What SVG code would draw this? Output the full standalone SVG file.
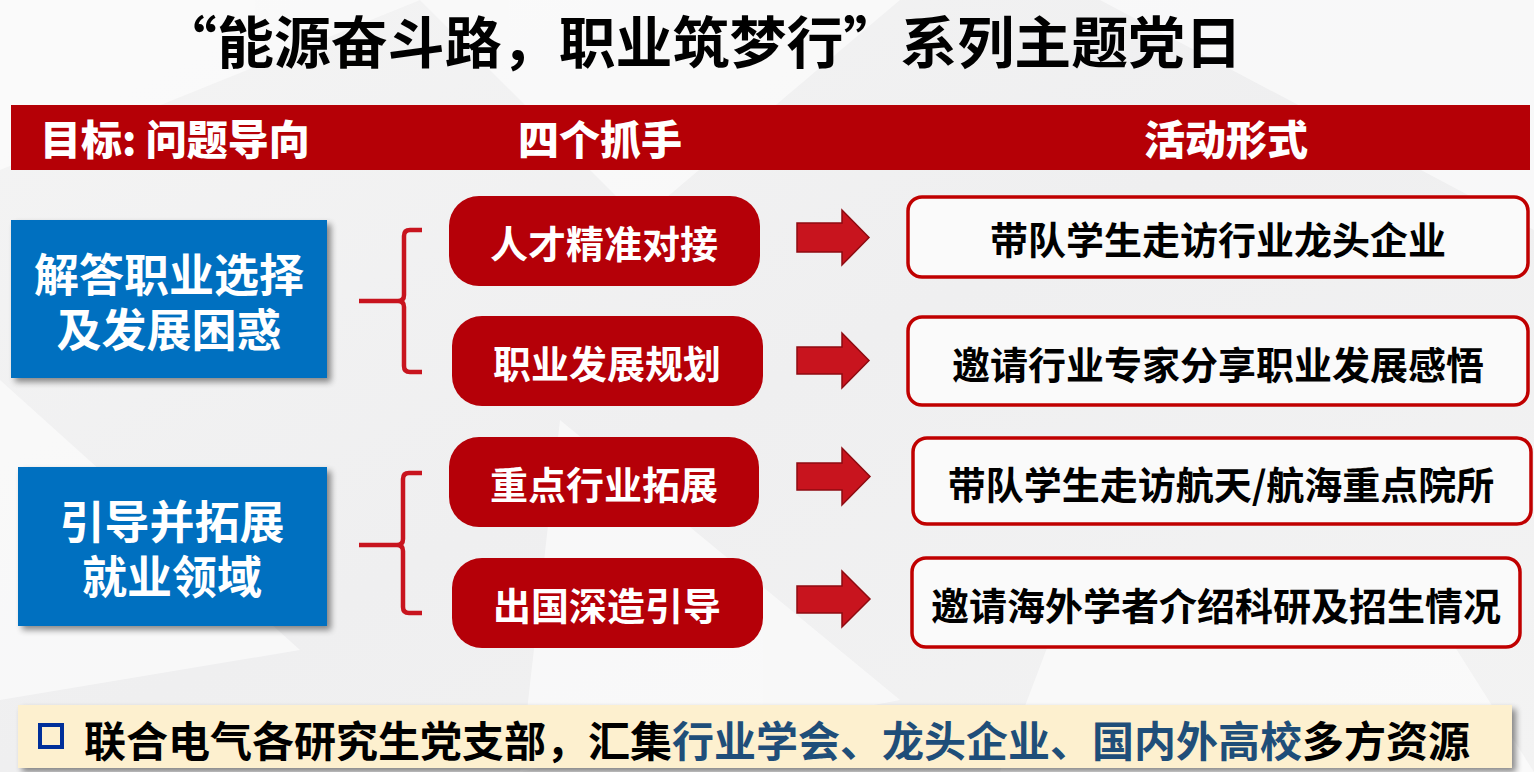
<svg xmlns="http://www.w3.org/2000/svg" width="1534" height="772" viewBox="0 0 1534 772">
<defs>
<style>
.cjk{font-family:"Noto Sans CJK SC","Noto Sans",sans-serif;font-weight:bold;}
.hdr{font-size:41px;fill:#ffffff;font-weight:900;}
.goal{font-size:45px;fill:#ffffff;text-anchor:middle;}
.pill{fill:#b50008;}
.pilltxt{font-size:38px;fill:#ffffff;text-anchor:middle;}
.act{fill:#fafafa;stroke:#c00000;stroke-width:3.5;}
.acttxt{font-size:38px;fill:#000000;text-anchor:middle;}
.brace{fill:none;stroke:#c8141e;stroke-width:4.5;stroke-linejoin:round;}
.arrow{fill:#c8141e;stroke:#8e0a10;stroke-width:1.5;}
.blue{fill:#0070c0;}
</style>
<filter id="sh" x="-10%" y="-10%" width="130%" height="130%">
<feGaussianBlur in="SourceAlpha" stdDeviation="3"/>
<feOffset dx="4" dy="4" result="b"/>
<feComponentTransfer><feFuncA type="linear" slope="0.45"/></feComponentTransfer>
<feMerge><feMergeNode/><feMergeNode in="SourceGraphic"/></feMerge>
</filter>
<linearGradient id="bg" x1="0" y1="0" x2="1" y2="1">
<stop offset="0" stop-color="#f4f4f4"/>
<stop offset="0.5" stop-color="#efeff0"/>
<stop offset="1" stop-color="#f3f3f3"/>
</linearGradient>
</defs>
<rect x="0" y="0" width="1534" height="772" fill="url(#bg)"/>
<g id="background-facets" fill="#ffffff" opacity="0.55">
<polygon points="0,0 420,0 0,170"/>
<polygon points="420,0 900,0 640,220"/>
<polygon points="1100,0 1534,0 1534,230"/>
<polygon points="0,380 300,650 0,700"/>
<polygon points="560,420 900,700 520,772"/>
<polygon points="1050,640 1400,560 1534,772 1000,772"/>
</g>
<g id="title">
<text class="cjk" x="160" y="63" font-size="56" font-weight="900" fill="#000000" textLength="1082" lengthAdjust="spacingAndGlyphs">“能源奋斗路，职业筑梦行”系列主题党日</text>
</g>
<g id="header">
<rect x="11" y="105" width="1519" height="65" fill="#b50006"/>
<text class="cjk hdr" x="40" y="137" dominant-baseline="central">目标: 问题导向</text>
<text class="cjk hdr" x="600" y="137" dominant-baseline="central" text-anchor="middle">四个抓手</text>
<text class="cjk hdr" x="1226" y="137" dominant-baseline="central" text-anchor="middle">活动形式</text>
</g>
<g id="goal1">
<rect class="blue" x="11" y="220" width="316" height="158" filter="url(#sh)"/>
<text class="cjk goal" dominant-baseline="central"><tspan x="169" y="272">解答职业选择</tspan><tspan x="169" y="327">及发展困惑</tspan></text>
</g>
<g id="goal2">
<rect class="blue" x="18" y="467" width="309" height="159" filter="url(#sh)"/>
<text class="cjk goal" dominant-baseline="central"><tspan x="172" y="519">引导并拓展</tspan><tspan x="172" y="574">就业领域</tspan></text>
</g>
<g id="hand1">
<rect class="pill" x="449" y="196" width="311" height="90" rx="30"/>
<text class="cjk pilltxt" x="604" y="241" dominant-baseline="central">人才精准对接</text>
</g>
<g id="hand2">
<rect class="pill" x="452" y="316" width="311" height="90" rx="30"/>
<text class="cjk pilltxt" x="607" y="361" dominant-baseline="central">职业发展规划</text>
</g>
<g id="hand3">
<rect class="pill" x="449" y="437" width="310" height="90" rx="30"/>
<text class="cjk pilltxt" x="604" y="482" dominant-baseline="central">重点行业拓展</text>
</g>
<g id="hand4">
<rect class="pill" x="452" y="558" width="311" height="90" rx="30"/>
<text class="cjk pilltxt" x="607" y="603" dominant-baseline="central">出国深造引导</text>
</g>
<g id="act1">
<rect class="act" x="908" y="197" width="620" height="80" rx="14"/>
<text class="cjk acttxt" x="1218" y="237" dominant-baseline="central">带队学生走访行业龙头企业</text>
</g>
<g id="act2">
<rect class="act" x="908" y="317" width="620" height="88" rx="14"/>
<text class="cjk acttxt" x="1218" y="362" dominant-baseline="central">邀请行业专家分享职业发展感悟</text>
</g>
<g id="act3">
<rect class="act" x="913" y="438" width="618" height="86" rx="14"/>
<text class="cjk acttxt" x="1221" y="482" dominant-baseline="central">带队学生走访航天/航海重点院所</text>
</g>
<g id="act4">
<rect class="act" x="912" y="558" width="608" height="89" rx="14"/>
<text class="cjk acttxt" x="1216" y="603" dominant-baseline="central">邀请海外学者介绍科研及招生情况</text>
</g>
<g id="connectors">
<path class="brace" d="M359,301 H398 Q404,301 404,295 V236 Q404,230 410,230 H422 M404,307 V366 Q404,372 410,372 H422 M398,301 Q404,301 404,307"/>
<path class="brace" d="M359,545 H397 Q403,545 403,539 V479 Q403,473 409,473 H422 M403,551 V607 Q403,613 409,613 H422 M397,545 Q403,545 403,551"/>
<polygon class="arrow" points="797,223 842,223 842,210 869,237.5 842,265 842,252 797,252"/>
<polygon class="arrow" points="797,347 842,347 842,333 869,360.5 842,388 842,374 797,374"/>
<polygon class="arrow" points="797,463 842,463 842,448 870,476.5 842,505 842,490 797,490"/>
<polygon class="arrow" points="797,586 842,586 842,571 870,599 842,627 842,613 797,613"/>
</g>
<g id="footer">
<rect x="18" y="705" width="1494" height="63" fill="#fdf0cf" filter="url(#sh)"/>
<rect x="40" y="725" width="22" height="22" fill="none" stroke="#002f9a" stroke-width="4"/>
<text class="cjk" x="84" y="738" font-size="42" dominant-baseline="central" fill="#000000">联合电气各研究生党支部，汇集<tspan fill="#1f4e79">行业学会、龙头企业、国内外高校</tspan>多方资源</text>
</g>
</svg>
